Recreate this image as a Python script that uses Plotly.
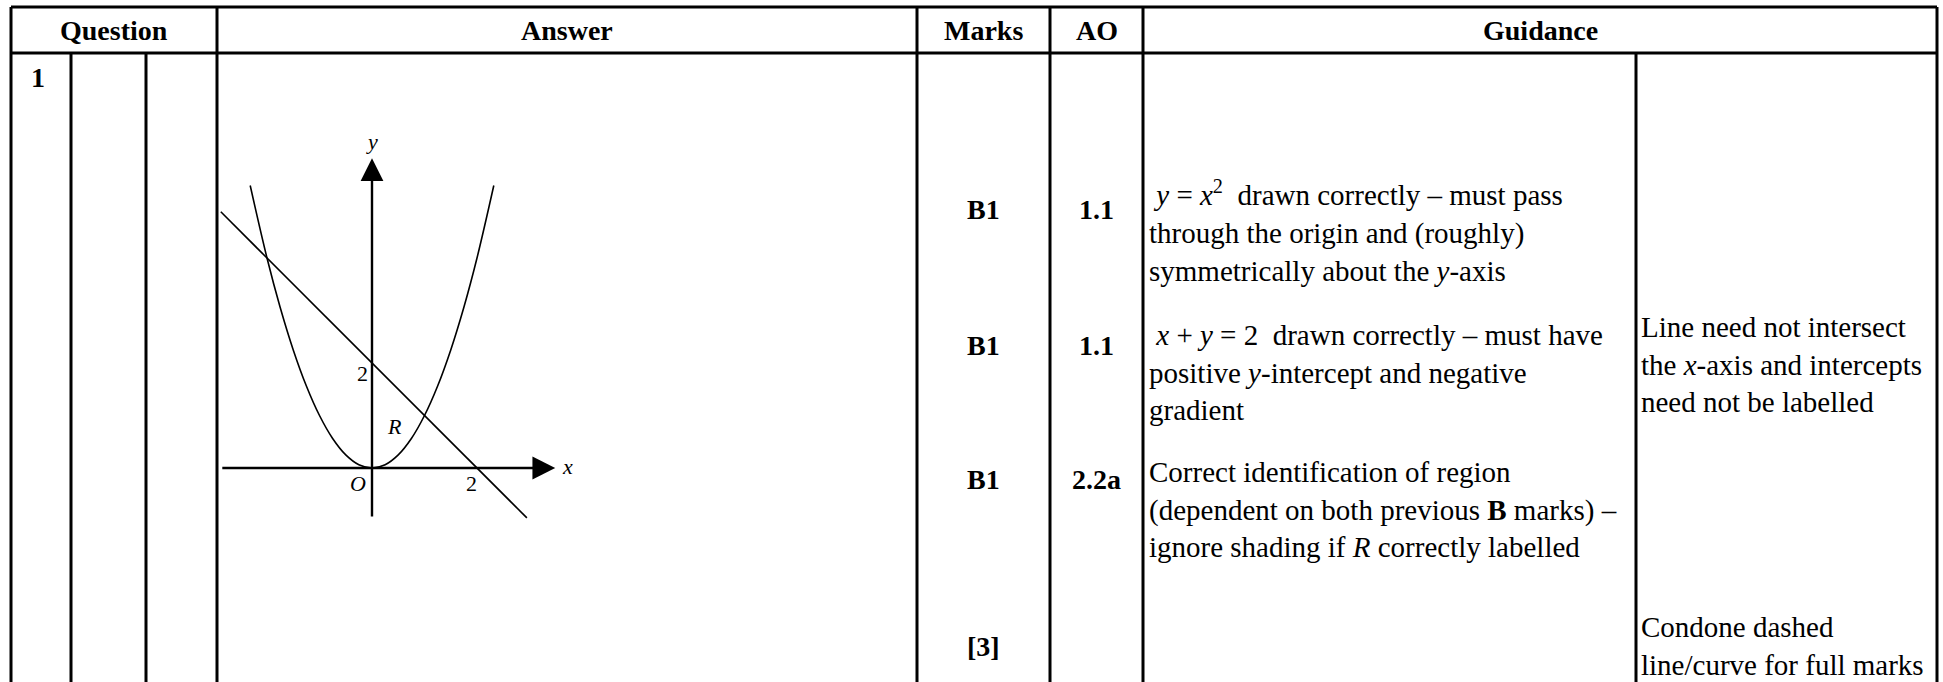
import plotly.graph_objects as go

# ---- table content ----
header_labels = ["Question", "Answer", "Marks", "AO", "Guidance"]
question_number = "1"
marks = ["B1", "B1", "B1", "[3]"]
ao_codes = ["1.1", "1.1", "2.2a"]
guidance = [
    "\u00a0<i>y</i> = <i>x</i><sup>2</sup>\u00a0 drawn correctly – must pass<br>"
    "through the origin and (roughly)<br>symmetrically about the <i>y</i>-axis",
    "\u00a0<i>x</i> + <i>y</i> = 2\u00a0 drawn correctly – must have<br>"
    "positive <i>y</i>-intercept and negative<br>gradient",
    "Correct identification of region<br>(dependent on both previous <b>B</b> marks) –<br>"
    "ignore shading if <i>R</i> correctly labelled",
]
extra_guidance = [
    "Line need not intersect<br>the <i>x</i>-axis and intercepts<br>need not be labelled",
    "Condone dashed<br>line/curve for full marks",
]

# ---- sketch: y = x^2 and x + y = 2 ----
curve_x = [-2.32, -2.0, -1.75, -1.5, -1.25, -1.0, -0.75, -0.5, -0.25, 0.0,
           0.25, 0.5, 0.75, 1.0, 1.25, 1.5, 1.75, 2.0, 2.32]
curve_y = [5.38, 4.0, 3.0625, 2.25, 1.5625, 1.0, 0.5625, 0.25, 0.0625, 0.0,
           0.0625, 0.25, 0.5625, 1.0, 1.5625, 2.25, 3.0625, 4.0, 5.38]
line_x = [-2.88, 2.95]
line_y = [4.88, -0.95]
x_axis_span = [-2.88, 3.49]
y_axis_span = [-0.95, 5.9]
sketch_labels = ["<i>y</i>", "<i>x</i>", "2", "2", "<i>O</i>", "<i>R</i>"]
sketch_label_x = [0.0, 3.72, -0.19, 1.9, -0.27, 0.42]
sketch_label_y = [6.22, 0.02, 1.8, -0.29, -0.29, 0.8]

# ---- page geometry (pixels) ----
W, H = 1943, 682
col_edges = [11, 71, 146, 217, 917, 1050, 1143, 1636, 1937]
top_y, head_y = 7, 53
origin_px = (372, 468)
unit = 52.5

FONT = "Liberation Serif"

fig = go.Figure()

# parabola and line in the sketch
fig.add_trace(go.Scatter(x=curve_x, y=curve_y, mode="lines", line_shape="spline",
                         line=dict(color="black", width=1.6), xaxis="x2", yaxis="y2",
                         hoverinfo="skip"))
fig.add_trace(go.Scatter(x=line_x, y=line_y, mode="lines",
                         line=dict(color="black", width=1.6), xaxis="x2", yaxis="y2",
                         hoverinfo="skip"))

annotations = []

# sketch axes drawn as arrows
for tip, tail in [((x_axis_span[1], 0), (x_axis_span[0], 0)),
                  ((0, y_axis_span[1]), (0, y_axis_span[0]))]:
    annotations.append(dict(x=tip[0], y=tip[1], ax=tail[0], ay=tail[1],
                            xref="x2", yref="y2", axref="x2", ayref="y2", text="",
                            showarrow=True, arrowhead=2, arrowsize=1.9, arrowwidth=2.4,
                            arrowcolor="black"))
for t, lx, ly in zip(sketch_labels, sketch_label_x, sketch_label_y):
    annotations.append(dict(x=lx, y=ly, xref="x2", yref="y2", text=t, showarrow=False,
                            font=dict(family=FONT, size=22, color="black")))

# header row
header_x = [(col_edges[0] + col_edges[3]) / 2, (col_edges[3] + col_edges[4]) / 2,
            (col_edges[4] + col_edges[5]) / 2, (col_edges[5] + col_edges[6]) / 2,
            (col_edges[6] + col_edges[8]) / 2]
for t, hx in zip(header_labels, header_x):
    annotations.append(dict(x=hx, y=30, xref="x", yref="y", text=f"<b>{t}</b>",
                            showarrow=False, font=dict(family=FONT, size=28, color="black")))

annotations.append(dict(x=38, y=77, xref="x", yref="y", text=f"<b>{question_number}</b>",
                        showarrow=False, font=dict(family=FONT, size=28, color="black")))

# marks / AO / guidance rows
row_y = [209, 345, 479, 646]
for t, ry in zip(marks, row_y):
    annotations.append(dict(x=(col_edges[4] + col_edges[5]) / 2, y=ry, xref="x", yref="y",
                            text=f"<b>{t}</b>", showarrow=False,
                            font=dict(family=FONT, size=28, color="black")))
for t, ry in zip(ao_codes, row_y):
    annotations.append(dict(x=(col_edges[5] + col_edges[6]) / 2, y=ry, xref="x", yref="y",
                            text=f"<b>{t}</b>", showarrow=False,
                            font=dict(family=FONT, size=28, color="black")))
guidance_y = [231, 372, 509]
for t, gy in zip(guidance, guidance_y):
    annotations.append(dict(x=col_edges[6] + 4, y=gy, xref="x", yref="y", text=t,
                            showarrow=False, xanchor="left", align="left",
                            font=dict(family=FONT, size=29, color="black")))
extra_y = [364, 646]
for t, gy in zip(extra_guidance, extra_y):
    annotations.append(dict(x=col_edges[7] + 3, y=gy, xref="x", yref="y", text=t,
                            showarrow=False, xanchor="left", align="left",
                            font=dict(family=FONT, size=29, color="black")))

# table rules
lw = 3
shapes = [
    dict(type="line", x0=col_edges[0], x1=col_edges[-1], y0=top_y, y1=top_y),
    dict(type="line", x0=col_edges[0], x1=col_edges[-1], y0=head_y, y1=head_y),
]
for cx in col_edges:
    y_start = head_y if cx in (col_edges[1], col_edges[2], col_edges[7]) else top_y
    shapes.append(dict(type="line", x0=cx, x1=cx, y0=y_start, y1=H + 5))
for s in shapes:
    s.update(xref="x", yref="y", line=dict(color="black", width=lw))

fig.update_layout(
    width=W, height=H,
    margin=dict(l=0, r=0, t=0, b=0),
    paper_bgcolor="white", plot_bgcolor="rgba(0,0,0,0)",
    showlegend=False,
    xaxis=dict(range=[0, W], visible=False, fixedrange=True),
    yaxis=dict(range=[H, 0], visible=False, fixedrange=True),
    xaxis2=dict(range=[-4, 5], visible=False, fixedrange=True,
                domain=[(origin_px[0] - 4 * unit) / W, (origin_px[0] + 5 * unit) / W]),
    yaxis2=dict(range=[-2, 7], visible=False, fixedrange=True,
                domain=[(H - (origin_px[1] + 2 * unit)) / H, (H - (origin_px[1] - 7 * unit)) / H]),
    shapes=shapes,
    annotations=annotations,
)

fig.write_html("out.html", config={"displayModeBar": False, "staticPlot": True},
               post_script="document.body.style.margin='0';document.body.style.overflow='hidden';")
